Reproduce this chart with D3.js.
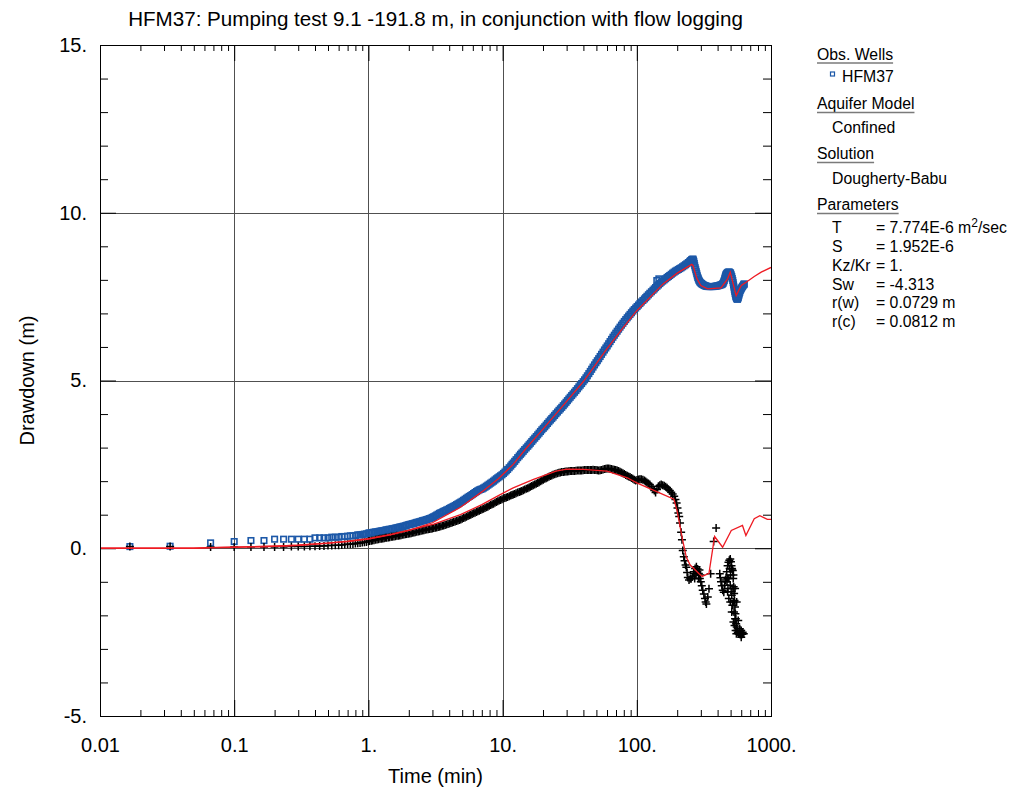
<!DOCTYPE html>
<html><head><meta charset="utf-8">
<script src="https://cdn.jsdelivr.net/npm/d3@7"></script>
<style>body{margin:0;background:#fff}svg{display:block}text{font-family:"Liberation Sans",Arial,sans-serif}</style>
</head><body><svg id="c" width="1017" height="789"></svg>
<script>
// ---------------- data ----------------
const titleText = "HFM37: Pumping test 9.1 -191.8 m, in conjunction with flow logging";
const xTickValues = [0.01, 0.1, 1, 10, 100, 1000];
const xTickLabels = ["0.01", "0.1", "1.", "10.", "100.", "1000."];
const yTickValues = [-5, 0, 5, 10, 15];
const yTickLabels = ["-5.", "0.", "5.", "10.", "15."];
const xGridValues = [0.1, 1, 10, 100];
const yGridValues = [0, 5, 10];

// observation well HFM37 (blue squares): time (min)
const blueTime = [0.0167,0.0333,0.0667,0.1,0.1333,0.1667,0.2,0.2333,0.2667,0.3,0.3333,0.3667,0.4,0.4333,0.4667,0.5,0.5333,0.5667,0.6,0.6333,0.6667,0.7,0.7333,0.7667,0.8,0.8333,0.8667,0.9,0.9333,0.9667,
1.0,1.02,1.05,1.07,1.1,1.13,1.16,1.19,1.22,1.25,1.28,1.31,1.34,1.37,1.41,1.44,1.48,1.51,1.55,1.59,1.63,1.67,1.71,1.75,1.8,1.84,1.89,1.93,1.98,2.03,2.08,2.13,2.18,2.23,2.29,2.35,2.41,2.47,2.53,2.59,2.65,2.72,2.79,2.86,2.93,3.0,3.07,3.15,3.23,3.31,3.39,3.47,3.56,3.64,3.73,3.82,3.92,4.02,4.12,4.22,4.32,4.43,4.54,4.65,4.76,4.88,5.0,5.12,5.25,5.38,5.52,5.65,5.79,5.93,6.08,6.23,6.39,6.54,6.7,6.87,7.04,7.21,7.39,7.57,7.76,7.95,8.15,8.35,8.56,8.77,8.99,9.21,9.43,9.66,9.9,10.15,10.4,10.65,10.9,11.2,11.5,11.75,12.0,12.3,12.6,12.95,13.3,13.6,13.9,14.25,14.6,15.0,15.4,15.75,16.1,16.5,16.9,17.35,17.8,18.25,18.7,19.15,19.6,20.1,20.6,21.1,21.6,22.15,22.7,23.25,23.8,24.4,25.0,25.65,26.3,26.95,27.6,28.3,29.0,29.7,30.4,31.15,31.9,32.7,33.5,34.35,35.2,36.1,37.0,37.9,38.8,39.8,40.8,41.8,42.8,43.9,45.0,46.1,47.2,48.4,49.6,50.8,52.0,53.3,54.6,56.0,57.4,58.8,60.2,61.7,63.2,64.8,66.4,68.0,69.7,71.4,73.2,75.0,76.9,78.8,80.7,82.7,84.8,86.9,89.0,91.2,93.4,95.7,98.1,100.5,103,105.5,108,111,114,116.5,119,122,125,128.5,132,135,138,141,141.5,145,146,148.5,152,156,160,164,168,172,176,180.5,185,189.5,194,199,204,209,214,219.5,225,230.5,236,242,248,252,256,259,262,264,266,268,270,272.5,275,277.5,280,282.5,285,287.5,290,293,296,299.5,303,306.5,310,315,320,325,330,335,340,347.5,355,362.5,370,377.5,385,392.5,400,407.5,415,422.5,430,435,440,444,448,451.5,455,458.5,462,466,470,475,480,485,490,495,500,505,510,514.5,519,522.5,526,529.5,533,536.5,540,543.5,547,551,555,559,563,567,571,575.5,580,585,590,595,600,606,612,618.5,625,628.5,632];
// drawdown (m)
const blueDrawdown = [0.05,0.06,0.16,0.20,0.23,0.23,0.27,0.27,0.27,0.27,0.27,0.27,0.31,0.31,0.31,0.31,0.33,0.33,0.33,0.35,0.35,0.36,0.37,0.37,0.38,0.40,0.40,0.41,0.42,0.43,
0.45,0.455,0.46,0.47,0.48,0.485,0.49,0.50,0.51,0.515,0.52,0.53,0.54,0.55,0.56,0.565,0.57,0.58,0.59,0.60,0.61,0.62,0.63,0.64,0.65,0.66,0.67,0.685,0.70,0.71,0.72,0.73,0.74,0.755,0.77,0.78,0.79,0.805,0.82,0.83,0.84,0.855,0.87,0.885,0.90,0.92,0.94,0.965,0.99,1.015,1.04,1.06,1.08,1.10,1.12,1.14,1.16,1.185,1.21,1.23,1.25,1.275,1.30,1.325,1.35,1.375,1.40,1.43,1.46,1.49,1.52,1.545,1.57,1.60,1.63,1.66,1.69,1.715,1.74,1.755,1.77,1.795,1.82,1.85,1.88,1.91,1.94,1.97,2.00,2.035,2.07,2.10,2.13,2.16,2.19,2.23,2.27,2.31,2.35,2.40,2.45,2.50,2.54,2.59,2.64,2.70,2.75,2.80,2.84,2.89,2.94,2.99,3.04,3.085,3.13,3.18,3.23,3.28,3.33,3.38,3.43,3.48,3.53,3.575,3.62,3.67,3.72,3.77,3.82,3.865,3.91,3.96,4.01,4.06,4.11,4.155,4.20,4.25,4.30,4.35,4.40,4.45,4.50,4.55,4.60,4.65,4.70,4.755,4.81,4.86,4.91,4.965,5.02,5.08,5.14,5.205,5.27,5.335,5.40,5.465,5.53,5.59,5.65,5.715,5.78,5.845,5.91,5.97,6.03,6.095,6.16,6.225,6.29,6.35,6.41,6.47,6.53,6.59,6.65,6.705,6.76,6.815,6.87,6.92,6.97,7.02,7.07,7.115,7.16,7.205,7.25,7.295,7.34,7.385,7.43,7.47,7.51,7.555,7.60,7.645,7.69,7.73,7.77,7.98,7.81,7.85,8.03,7.89,7.93,7.965,8.00,8.035,8.07,8.10,8.13,8.165,8.20,8.23,8.26,8.285,8.31,8.335,8.36,8.39,8.42,8.45,8.48,8.515,8.55,8.575,8.60,8.61,8.62,8.59,8.55,8.49,8.42,8.36,8.30,8.24,8.18,8.12,8.07,8.03,7.99,7.96,7.93,7.91,7.89,7.875,7.86,7.845,7.83,7.82,7.81,7.805,7.80,7.80,7.80,7.80,7.80,7.805,7.81,7.815,7.82,7.83,7.84,7.85,7.86,7.88,7.90,7.94,7.98,8.03,8.08,8.12,8.16,8.18,8.20,8.215,8.23,8.23,8.23,8.215,8.20,8.15,8.10,8.04,7.98,7.915,7.85,7.785,7.72,7.66,7.60,7.55,7.50,7.47,7.44,7.43,7.42,7.45,7.48,7.53,7.58,7.63,7.68,7.71,7.74,7.77,7.80,7.825,7.85,7.865,7.88];

// second record (black crosses): time (min)
const crossTime = [0.0167,0.0333,0.0667,0.1,0.1333,0.1667,0.2,0.2333,0.2667,0.3,0.3333,0.3667,0.4,0.4333,0.4667,0.5,0.5333,0.5667,0.6,0.6333,0.6667,0.7,0.7333,0.7667,0.8,0.8333,0.8667,0.9,0.9333,0.9667,
1.0,1.02,1.05,1.07,1.1,1.13,1.16,1.19,1.22,1.25,1.28,1.31,1.34,1.37,1.41,1.44,1.48,1.51,1.55,1.59,1.63,1.67,1.71,1.75,1.8,1.84,1.89,1.93,1.98,2.03,2.08,2.13,2.18,2.23,2.29,2.35,2.41,2.47,2.53,2.59,2.65,2.72,2.79,2.86,2.93,3.0,3.07,3.15,3.23,3.31,3.39,3.47,3.56,3.64,3.73,3.82,3.92,4.02,4.12,4.22,4.32,4.43,4.54,4.65,4.76,4.88,5.0,5.12,5.25,5.38,5.52,5.65,5.79,5.93,6.08,6.23,6.39,6.54,6.7,6.87,7.04,7.21,7.39,7.57,7.76,7.95,8.15,8.35,8.56,8.77,8.99,9.21,9.43,9.66,9.9,10.15,10.4,10.65,10.9,11.2,11.5,11.75,12.0,12.3,12.6,12.95,13.3,13.6,13.9,14.25,14.6,15.0,15.4,15.75,16.1,16.5,16.9,17.35,17.8,18.25,18.7,19.15,19.6,20.1,20.6,21.1,21.6,22.15,22.7,23.25,23.8,24.4,25.0,25.65,26.3,26.95,27.6,28.3,29.0,29.7,30.4,31.15,31.9,32.7,33.5,34.35,35.2,36.1,37.0,37.9,38.8,39.8,40.8,41.8,42.8,43.9,45.0,46.1,47.2,48.4,49.6,50.8,52.0,53.3,54.6,56.0,57.4,58.8,60.2,61.7,63.2,64.8,66.4,68.0,69.7,71.4,73.2,75.0,76.9,78.8,80.7,82.7,84.8,86.9,89.0,91.2,93.4,95.7,98.1,100.5,103,105.5,108,111,114,116.5,119,
122,125,128.5,132,135,138,141.5,145,148.5,152,156,160,164,168,172,176,180.5,185,190,194,198,201,204,207,210,214,217,220,224,227,231,234,237,240,245,250,254,260,265,266,270,272,276,278,282,284,288,290,293,295,298,300,305,310,316,322,326,330,338,345,355,374,390,415,420,424,430,437,445,452,458,462,468,
470,475,475,475,478,482,485,485,489,492,497,497,497,500,503,505,508,510,510,510,513,515,519,520,523,525,525,525,527,530,531,535,535,539,540,540,543,545,547,550,552,555,555,560,566,570,573,580,585,590,600,600,612,615,627];
// drawdown (m)
const crossDrawdown = [0.05,0.05,0.04,0.04,0.04,0.04,0.04,0.04,0.05,0.05,0.05,0.06,0.06,0.07,0.07,0.08,0.08,0.09,0.09,0.10,0.11,0.12,0.12,0.13,0.14,0.15,0.16,0.17,0.18,0.19,
0.21,0.215,0.22,0.23,0.24,0.25,0.26,0.27,0.28,0.285,0.29,0.30,0.31,0.315,0.32,0.33,0.34,0.345,0.35,0.36,0.37,0.375,0.38,0.39,0.40,0.41,0.42,0.425,0.43,0.44,0.45,0.46,0.47,0.48,0.49,0.50,0.51,0.52,0.53,0.54,0.55,0.56,0.57,0.575,0.58,0.59,0.60,0.61,0.62,0.63,0.64,0.655,0.67,0.68,0.69,0.705,0.72,0.735,0.75,0.765,0.78,0.795,0.81,0.825,0.84,0.86,0.88,0.90,0.92,0.94,0.96,0.98,1.00,1.02,1.04,1.06,1.08,1.10,1.12,1.14,1.16,1.18,1.20,1.22,1.24,1.265,1.29,1.31,1.33,1.355,1.38,1.40,1.42,1.44,1.46,1.48,1.50,1.515,1.53,1.55,1.57,1.585,1.60,1.62,1.64,1.66,1.68,1.695,1.71,1.73,1.75,1.77,1.79,1.81,1.83,1.855,1.88,1.90,1.92,1.945,1.97,1.995,2.02,2.045,2.07,2.09,2.11,2.13,2.15,2.17,2.19,2.205,2.22,2.235,2.25,2.26,2.27,2.275,2.28,2.285,2.29,2.295,2.30,2.30,2.30,2.305,2.31,2.315,2.32,2.32,2.32,2.325,2.33,2.33,2.33,2.33,2.33,2.335,2.34,2.335,2.33,2.325,2.32,2.325,2.33,2.345,2.36,2.37,2.38,2.375,2.37,2.36,2.35,2.34,2.33,2.315,2.30,2.28,2.26,2.235,2.21,2.185,2.16,2.14,2.12,2.095,2.07,2.045,2.02,2.035,2.05,2.055,2.06,2.04,2.02,1.99,1.96,
1.93,1.90,1.84,1.78,1.72,1.66,1.75,1.85,1.875,1.90,1.88,1.86,1.83,1.80,1.76,1.72,1.67,1.62,1.55,1.45,1.35,1.20,1.05,0.95,0.75,0.48,0.25,-0.07,-0.25,-0.37,-0.50,-0.57,-0.72,-0.87,-0.95,-0.90,-0.91,-0.85,-0.75,-0.70,-0.90,-0.60,-0.80,-0.55,-0.70,-0.62,-0.90,-0.75,-0.65,-0.90,-0.80,-1.00,-1.12,-1.25,-1.36,-1.50,-1.60,-1.66,-1.45,-1.21,-0.76,0.20,0.60,-0.76,-0.88,-1.00,-1.12,-1.25,-1.31,-1.10,-0.95,-0.87,-0.70,
-1.00,-0.52,-0.90,-1.30,-1.20,-0.42,-0.90,-1.50,-0.36,-0.60,-0.32,-1.10,-1.60,-0.80,-0.40,-1.30,-0.52,-0.60,-1.40,-1.90,-0.62,-1.70,-0.66,-1.20,-0.90,-0.80,-1.60,-2.20,-1.15,-1.90,-1.35,-1.56,-2.30,-1.75,-1.20,-2.10,-1.95,-2.45,-2.10,-2.25,-2.55,-1.60,-2.35,-2.45,-2.50,-2.15,-2.55,-2.55,-2.40,-2.57,-2.45,-2.65,-2.56,-2.50,-2.55];

// Dougherty-Babu type curves (red)
const fitBlueTime = [0.01,0.05,0.0667,0.1,0.2,0.3,0.5,0.7,1,1.5,2,3,4.85,7,9.3,12,15,20,30,40,60,80,100,157,200,257,262,281,300,337,424,475,497,550,600,653,750,845,1000];
const fitBlueDrawdown = [0,0,0.02,0.03,0.06,0.09,0.15,0.21,0.29,0.42,0.53,0.76,1.22,1.68,2.07,2.5,2.98,3.55,4.38,4.97,5.95,6.6,7.08,7.88,8.2,8.46,8.43,8.03,7.83,7.73,7.76,8.03,8.23,7.53,7.83,7.93,8.1,8.23,8.37];
const fitCrossTime = [0.01,0.05,0.0667,0.1,0.2,0.3,0.5,0.7,1,1.46,2.44,3.07,4.85,7,9.3,12,17,25,30,40,60,85,100,142,189,200,210,220,234,250,267,290,307,345,380,436,506,613,650,750,826,939,1000];
const fitCrossDrawdown = [0,0,0.02,0.03,0.06,0.09,0.15,0.2,0.27,0.4,0.62,0.72,1.0,1.3,1.57,1.8,2.05,2.3,2.36,2.35,2.3,2.1,1.95,1.68,1.46,1.1,0.65,0.23,-0.27,-0.5,-0.61,-0.75,-0.84,-0.75,0.35,0.03,0.53,0.68,0.38,0.88,0.97,0.86,0.86];

// legend / parameter texts
const legendSections = [
  {head: "Obs. Wells", lines: ["HFM37"]},
  {head: "Aquifer Model", lines: ["Confined"]},
  {head: "Solution", lines: ["Dougherty-Babu"]},
  {head: "Parameters", lines: []}
];
const paramNames = ["T", "S", "Kz/Kr", "Sw", "r(w)", "r(c)"];
const paramValues = ["= 7.774E-6 m", "= 1.952E-6", "= 1.", "= -4.313", "= 0.0729 m", "= 0.0812 m"];

// ---------------- drawing ----------------
const svg = d3.select("#c");
const L = 100, R = 771, T = 45, B = 716;
const FONT = "'Liberation Sans', Arial, sans-serif";
const BLUE = "#1c58a8", RED = "#ee1a22", GRID = "#505050";

svg.append("rect").attr("width", 1017).attr("height", 789).attr("fill", "#fff");

const x = d3.scaleLog().domain([0.01, 1000]).range([L, R]);
const y = d3.scaleLinear().domain([-5, 15]).range([B, T]);

// grid
const grid = svg.append("g").attr("stroke", GRID).attr("stroke-width", 1);
grid.selectAll(".gx").data(xGridValues).join("line")
  .attr("x1", d => Math.round(x(d)) + 0.5).attr("x2", d => Math.round(x(d)) + 0.5)
  .attr("y1", T).attr("y2", B);
grid.selectAll(".gy").data(yGridValues).join("line")
  .attr("y1", d => Math.round(y(d)) + 0.5).attr("y2", d => Math.round(y(d)) + 0.5)
  .attr("x1", L).attr("x2", R);

// minor tick values
const xMinor = [];
[0.01, 0.1, 1, 10, 100].forEach(dec => { for (let k = 2; k <= 9; k++) xMinor.push(dec * k); });
const yMinor = d3.range(-5, 16).filter(v => v % 5 !== 0);

function styleAxis(g) {
  g.select(".domain").remove();
  g.attr("font-family", FONT).attr("font-size", 20);
  g.selectAll("text").attr("fill", "#000");
}
// bottom
svg.append("g").attr("transform", `translate(0,${B})`)
  .call(d3.axisBottom(x).tickValues(xMinor).tickSize(-6).tickFormat("")).call(styleAxis);
svg.append("g").attr("transform", `translate(0,${B})`)
  .call(d3.axisBottom(x).tickValues(xTickValues).tickSize(-16).tickPadding(22)
    .tickFormat((d, i) => xTickLabels[i])).call(styleAxis);
// top
svg.append("g").attr("transform", `translate(0,${T})`)
  .call(d3.axisTop(x).tickValues(xMinor).tickSize(-6).tickFormat("")).call(styleAxis);
svg.append("g").attr("transform", `translate(0,${T})`)
  .call(d3.axisTop(x).tickValues(xTickValues).tickSize(-16).tickFormat("")).call(styleAxis);
// left
svg.append("g").attr("transform", `translate(${L},0)`)
  .call(d3.axisLeft(y).tickValues(yMinor).tickSize(-8).tickFormat("")).call(styleAxis);
svg.append("g").attr("transform", `translate(${L},0)`)
  .call(d3.axisLeft(y).tickValues(yTickValues).tickSize(-16).tickPadding(13)
    .tickFormat((d, i) => yTickLabels[i])).call(styleAxis);
// right
svg.append("g").attr("transform", `translate(${R},0)`)
  .call(d3.axisRight(y).tickValues(yMinor).tickSize(-8).tickFormat("")).call(styleAxis);
svg.append("g").attr("transform", `translate(${R},0)`)
  .call(d3.axisRight(y).tickValues(yTickValues).tickSize(-16).tickFormat("")).call(styleAxis);

// clip
svg.append("clipPath").attr("id", "clip").append("rect")
  .attr("x", L).attr("y", T).attr("width", R - L).attr("height", B - T);
const plot = svg.append("g").attr("clip-path", "url(#clip)");

const blueData = blueTime.map((t, i) => ({t, v: blueDrawdown[i]}));
const crossData = crossTime.map((t, i) => ({t, v: crossDrawdown[i]}));
const fitBlue = fitBlueTime.map((t, i) => ({t, v: fitBlueDrawdown[i]}));
const fitCross = fitCrossTime.map((t, i) => ({t, v: fitCrossDrawdown[i]}));

plot.append("g").selectAll("rect").data(blueData).join("rect")
  .attr("x", d => x(d.t) - 2.75).attr("y", d => y(d.v) - 2.75)
  .attr("width", 5.5).attr("height", 5.5)
  .attr("fill", "none").attr("stroke", BLUE).attr("stroke-width", 1.6);

plot.append("g").selectAll("path").data(crossData).join("path")
  .attr("transform", d => `translate(${x(d.t)},${y(d.v)})`)
  .attr("d", "M-4,0H4M0,-4V4")
  .attr("stroke", "#000").attr("stroke-width", 1.5);

const line = d3.line().x(d => x(d.t)).y(d => y(d.v));
plot.append("path").datum(fitBlue).attr("d", line)
  .attr("fill", "none").attr("stroke", RED).attr("stroke-width", 1.3);
plot.append("path").datum(fitCross).attr("d", line)
  .attr("fill", "none").attr("stroke", RED).attr("stroke-width", 1.3);

// frame
svg.append("rect").attr("x", L + 0.5).attr("y", T + 0.5)
  .attr("width", R - L).attr("height", B - T)
  .attr("fill", "none").attr("stroke", "#000").attr("stroke-width", 1);

// titles
svg.append("text").attr("x", (L + R) / 2).attr("y", 26).attr("text-anchor", "middle")
  .attr("font-family", FONT).attr("font-size", 20.6).text(titleText);
svg.append("text").attr("x", (L + R) / 2).attr("y", 783).attr("text-anchor", "middle")
  .attr("font-family", FONT).attr("font-size", 20).text("Time (min)");
svg.append("text").attr("transform", `translate(34,${(T + B) / 2}) rotate(-90)`)
  .attr("text-anchor", "middle").attr("font-family", FONT).attr("font-size", 20).text("Drawdown (m)");

// legend
const lg = svg.append("g").attr("font-family", FONT).attr("font-size", 15.8).attr("fill", "#000");
const LX = 817, IX = 832;
const headY = [59.5, 109, 159, 210];
const lineY = [81.5, 132.5, 183.5];
legendSections.forEach((s, i) => {
  const t = lg.append("text").attr("x", LX).attr("y", headY[i]).text(s.head);
  const w = t.node().getComputedTextLength();
  lg.append("line").attr("x1", LX).attr("x2", LX + w)
    .attr("y1", headY[i] + 3.5).attr("y2", headY[i] + 3.5)
    .attr("stroke", "#7a7a7a").attr("stroke-width", 1.6);
  s.lines.forEach(l => {
    lg.append("text").attr("x", i === 0 ? 842 : IX).attr("y", lineY[i]).text(l);
  });
});
lg.append("rect").attr("x", 830.5).attr("y", 72).attr("width", 4).attr("height", 4)
  .attr("fill", "none").attr("stroke", BLUE).attr("stroke-width", 1.2);

const rowY = [232.5, 251.5, 270.5, 289.5, 308, 326.5];
paramNames.forEach((n, i) => {
  lg.append("text").attr("x", IX).attr("y", rowY[i]).text(n);
  const t = lg.append("text").attr("x", 876).attr("y", rowY[i]).text(paramValues[i]);
  if (i === 0) {
    t.append("tspan").attr("dy", -6).attr("font-size", 12).text("2");
    t.append("tspan").attr("dy", 6).text("/sec");
  }
});
</script></body></html>
